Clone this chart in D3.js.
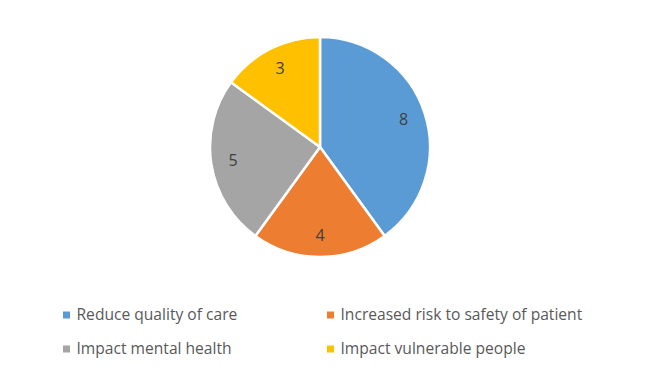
<!DOCTYPE html>
<html>
<head>
<meta charset="utf-8">
<script src="https://cdn.jsdelivr.net/npm/d3@7"></script>
<style>
  body { margin: 0; background: #fff; }
  svg { display: block; font-family: "Open Sans", sans-serif; }
</style>
</head>
<body>
<div id="chart"></div>
<script>
const categories = ["Reduce quality of care", "Increased risk to safety of patient", "Impact mental health", "Impact vulnerable people"];
const values = [8, 4, 5, 3];
const colors = ["#5B9BD5", "#ED7D31", "#A5A5A5", "#FFC000"];

const width = 649, height = 367;
const cx = 320, cy = 147, radius = 110;

const svg = d3.select("#chart").append("svg")
  .attr("width", width)
  .attr("height", height);

const data = categories.map((c, i) => ({ name: c, value: values[i], color: colors[i] }));

const pie = d3.pie().value(d => d.value).sort(null);
const arcs = pie(data);
const arc = d3.arc().innerRadius(0).outerRadius(radius);
const labelArc = d3.arc().innerRadius(radius * 0.8).outerRadius(radius * 0.8);

const g = svg.append("g").attr("transform", `translate(${cx},${cy})`);

g.selectAll("path")
  .data(arcs)
  .enter()
  .append("path")
  .attr("d", arc)
  .attr("fill", d => d.data.color)
  .attr("stroke", "#fff")
  .attr("stroke-width", 2.5)
  .attr("stroke-linejoin", "round");

g.selectAll("text")
  .data(arcs)
  .enter()
  .append("text")
  .attr("transform", d => `translate(${labelArc.centroid(d)})`)
  .attr("text-anchor", "middle")
  .attr("dy", "0.35em")
  .attr("fill", "#404040")
  .attr("font-size", "16px")
  .text(d => d.data.value);

// legend, two columns
const colX = [63, 327];
const rowY = [315, 349];
const legend = svg.append("g").attr("class", "legend");
data.forEach((d, i) => {
  const x = colX[i % 2], y = rowY[Math.floor(i / 2)];
  const item = legend.append("g").attr("transform", `translate(${x},${y})`);
  item.append("rect")
    .attr("x", 0).attr("y", -3.5)
    .attr("width", 7).attr("height", 7)
    .attr("fill", d.color);
  item.append("text")
    .attr("x", 13.5).attr("y", 0)
    .attr("dy", "0.35em")
    .attr("fill", "#595959")
    .attr("font-size", "15.6px")
    .text(d.name);
});
</script>
</body>
</html>
